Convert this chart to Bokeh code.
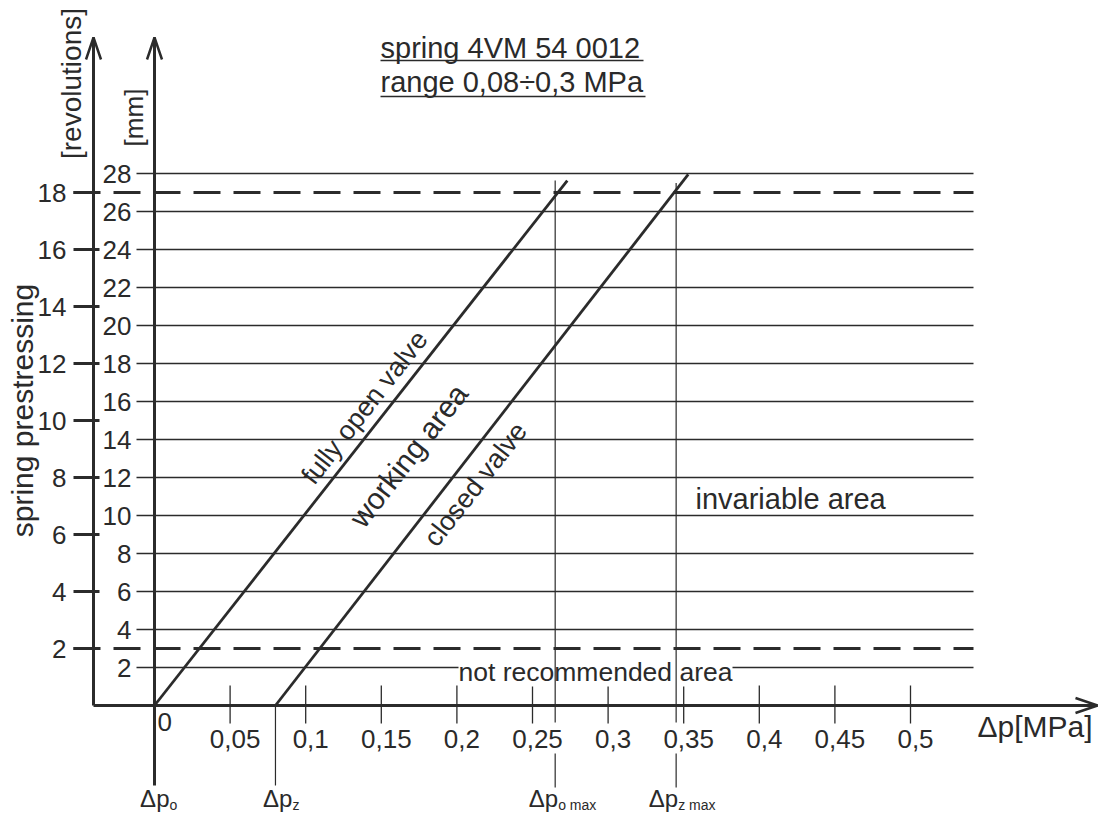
import math
from bokeh.plotting import figure
from bokeh.models import Range1d
from bokeh.core.properties import value
from bokeh.embed import file_html
from bokeh.resources import INLINE

# ---------------- data ----------------
x_ticks = [0.05, 0.1, 0.15, 0.2, 0.25, 0.3, 0.35, 0.4, 0.45, 0.5]
x_tick_labels = ["0,05", "0,1", "0,15", "0,2", "0,25", "0,3", "0,35", "0,4", "0,45", "0,5"]
mm_ticks = [2, 4, 6, 8, 10, 12, 14, 16, 18, 20, 22, 24, 26, 28]
mm_tick_labels = [str(v) for v in mm_ticks]
rev_ticks = [2, 4, 6, 8, 10, 12, 14, 16, 18]
rev_tick_labels = [str(v) for v in rev_ticks]
rev_limits = [2, 18]                      # recommended prestressing limits [revolutions]
mm_per_rev = 1.5                          # 18 revolutions = 27 mm

open_x = [0.0, 0.273]                     # fully open valve
open_y = [0.0, 27.63]
closed_x = [0.08, 0.353]                  # closed valve
closed_y = [0.0, 27.95]

marker_subs = ["o", "z", "o max", "z max"]
marker_x = [0.0, 0.08, 0.265, 0.345]
max_x = [0.265, 0.345]
max_top = [27.63, 27.5]

title_lines = ["spring 4VM 54 0012", "range 0,08\u00f70,3 MPa"]

# ---------------- layout helpers (pixel -> data) ----------------
W, H = 1101, 816
PX_X0, PX_Y0 = 154, 705       # pixel position of (0 MPa, 0 mm)
SX, SY = 1512.0, 19.0         # px per MPa, px per mm


def X(px):
    return (px - PX_X0) / SX


def Y(py):
    return (PX_Y0 - py) / SY


FONT = value("Liberation Sans")
TXT = "#2a2a2a"
LN = "#2b2b2b"

p = figure(width=W, height=H, output_backend="svg", toolbar_location=None,
           x_axis_location=None, y_axis_location=None, min_border=0,
           x_range=Range1d(X(0), X(W)), y_range=Range1d(Y(H), Y(0)))
p.extra_y_ranges = {"rev": Range1d(Y(H) / mm_per_rev, Y(0) / mm_per_rev)}
p.xgrid.visible = False
p.ygrid.visible = False
p.outline_line_color = None
p.background_fill_color = "white"
p.border_fill_color = "white"

# horizontal mm grid lines
p.segment(x0=X(136), x1=X(973), y0=mm_ticks, y1=mm_ticks, line_color=LN, line_width=1.3)

# dashed limits (revolutions scale)
p.segment(x0=X(73), x1=X(973), y0=rev_limits, y1=rev_limits, y_range_name="rev",
          line_color=LN, line_width=3, line_dash="27 13")

# revolution ticks and labels
p.segment(x0=X(73), x1=X(99), y0=rev_ticks, y1=rev_ticks, y_range_name="rev",
          line_color=LN, line_width=3)
p.text(x=[X(66)] * len(rev_ticks), y=rev_ticks, text=rev_tick_labels, y_range_name="rev",
       text_align="right", text_baseline="middle", text_font=FONT,
       text_font_size="26px", text_color=TXT)

# mm labels
p.text(x=[X(131)] * len(mm_ticks), y=mm_ticks, text=mm_tick_labels,
       text_align="right", text_baseline="middle", text_font=FONT,
       text_font_size="26px", text_color=TXT)

# x ticks and labels
p.segment(x0=x_ticks, x1=x_ticks, y0=Y(685), y1=Y(723), line_color=LN, line_width=1.3)
p.text(x=x_ticks, y=[Y(738)] * len(x_ticks), text=x_tick_labels, x_offset=5,
       text_align="center", text_baseline="middle", text_font=FONT,
       text_font_size="26px", text_color=TXT)
p.text(x=[0], y=[Y(721)], text=["0"], x_offset=3, text_align="left",
       text_baseline="middle", text_font=FONT, text_font_size="26px", text_color=TXT)

# area labels
p.text(x=[X(458)], y=[Y(671)], text=["not recommended area"], text_align="left",
       text_baseline="middle", text_font=FONT, text_font_size="26.5px",
       text_color=TXT, background_fill_color="white")
p.text(x=[X(695)], y=[Y(498)], text=["invariable area"], text_align="left",
       text_baseline="middle", text_font=FONT, text_font_size="29px", text_color=TXT)

ang = 52
p.text(x=[X(364)], y=[Y(407)], text=["fully open valve"], angle=ang, angle_units="deg",
       text_align="center", text_baseline="middle", text_font=FONT,
       text_font_size="27px", text_color=TXT)
p.text(x=[X(408)], y=[Y(455)], text=["working area"], angle=ang, angle_units="deg",
       text_align="center", text_baseline="middle", text_font=FONT,
       text_font_size="30px", text_color=TXT)
p.text(x=[X(475)], y=[Y(484)], text=["closed valve"], angle=ang, angle_units="deg",
       text_align="center", text_baseline="middle", text_font=FONT,
       text_font_size="27px", text_color=TXT)

# vertical marker lines
p.segment(x0=max_x, x1=max_x, y0=max_top, y1=Y(722), line_color=LN, line_width=1.2)
p.segment(x0=max_x, x1=max_x, y0=Y(753), y1=Y(787), line_color=LN, line_width=1.2)
p.segment(x0=[0.08], x1=[0.08], y0=[0], y1=[Y(785)], line_color=LN, line_width=1.2)

# characteristic lines
p.line(open_x, open_y, line_color=LN, line_width=2.8)
p.line(closed_x, closed_y, line_color=LN, line_width=2.8)

# axes
p.segment(x0=[0, X(93), X(93)], x1=[0, X(93), X(1097)],
          y0=[Y(785), 0, 0], y1=[Y(37), Y(37), 0], line_color=LN, line_width=3)
# arrow heads
hx, hy = 7.5 / SX, 22 / SY
p.multi_line(xs=[[-hx, 0, hx], [X(93) - hx, X(93), X(93) + hx],
                 [X(1097) - 22 / SX, X(1097), X(1097) - 22 / SX]],
             ys=[[Y(37) - hy, Y(37), Y(37) - hy], [Y(37) - hy, Y(37), Y(37) - hy],
                 [7.5 / SY, 0, -7.5 / SY]], line_color=LN, line_width=2.5)

# marker labels
shift = [15, 17, 3, 2]
p.text(x=marker_x, y=[Y(798)] * 4, text=["\u0394p"] * 4, x_offset=shift,
       text_align="right", text_baseline="middle", text_font=FONT,
       text_font_size="24px", text_color=TXT)
p.text(x=marker_x, y=[Y(804)] * 4, text=marker_subs, x_offset=shift,
       text_align="left", text_baseline="middle", text_font=FONT,
       text_font_size="14px", text_color=TXT)

# axis titles
p.text(x=[X(977)], y=[Y(726)], text=["\u0394p[MPa]"], text_align="left",
       text_baseline="middle", text_font=FONT, text_font_size="30px", text_color=TXT)
p.text(x=[X(71)], y=[Y(83)], text=["[revolutions]"], angle=90, angle_units="deg",
       text_align="center", text_baseline="middle", text_font=FONT,
       text_font_size="28px", text_color=TXT)
p.text(x=[X(133)], y=[Y(117)], text=["[mm]"], angle=90, angle_units="deg",
       text_align="center", text_baseline="middle", text_font=FONT,
       text_font_size="26px", text_color=TXT)
p.text(x=[X(22)], y=[Y(410)], text=["spring prestressing"], angle=90, angle_units="deg",
       text_align="center", text_baseline="middle", text_font=FONT,
       text_font_size="30px", text_color=TXT)

# title with underlines
p.text(x=[X(380)] * 2, y=[Y(47), Y(81)], text=title_lines, text_align="left",
       text_baseline="middle", text_font=FONT, text_font_size="29px", text_color=TXT)
p.segment(x0=[X(380)] * 2, x1=[X(643), X(645)], y0=[Y(60), Y(96)], y1=[Y(60), Y(96)],
          line_color=TXT, line_width=1.5)

open("out.html", "w").write(file_html(p, INLINE))
